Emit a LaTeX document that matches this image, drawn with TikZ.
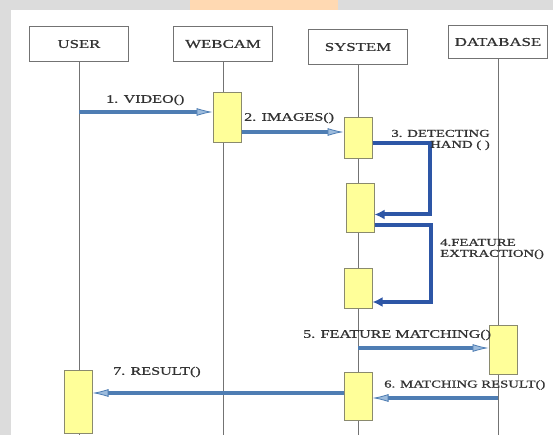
\documentclass[tikz,border=0pt]{standalone}
\usepackage{fontspec}
\setmainfont{Liberation Serif}[FakeStretch=1.4,FakeBold=0.8]
\usetikzlibrary{arrows.meta}
\definecolor{pagegrey}{HTML}{DCDCDC}
\definecolor{lineblue}{HTML}{4E7DB3}
\definecolor{tipblue}{HTML}{9DBCDD}
\definecolor{loopblue}{HTML}{2D56A6}
\definecolor{actyellow}{HTML}{FFFF99}
\definecolor{actedge}{HTML}{8A8A6E}

\begin{document}
\begin{tikzpicture}[x=1pt, y=-1pt,
	every node/.style={text=black!80},
	head/.style={draw=black!55, fill=white, line width=0.8pt, minimum width=99pt, minimum height=35pt, font=\fontsize{12}{13}\selectfont},
	act/.style={draw=actedge, fill=actyellow, line width=1pt, minimum width=28pt, inner sep=0pt},
	life/.style={draw=black!55, line width=0.8pt},
	msg/.style={draw=lineblue, line width=3.2pt, -{Latex[length=16pt,width=8pt,line width=0.8pt,fill=tipblue]}},
	selfmsg/.style={draw=loopblue, line width=4pt, line join=miter, -{Latex[length=10pt,width=10pt]}},
	lbl/.style={font=\fontsize{11.5}{11}\selectfont, inner sep=0pt}]
	\fill[pagegrey] (0,0) rectangle (553,435);
	\fill[white] (11,10) rectangle (553,435);
	\fill[orange!30] (190,0) rectangle (338,10);
	\useasboundingbox (0,0) rectangle (553,435);
	\coordinate (bottom) at (0,435);

	\node[head] (user) at (79,44) {USER};
	\node[head] (webcam) at (223,44) {WEBCAM};
	\node[head] (system) at (358,47) {SYSTEM};
	\node[head, minimum height=33pt] (database) at (498,42) {DATABASE};
	\foreach \n in {user,webcam,system,database}
		\draw[life] (\n.south) -- (\n.south |- bottom);

	\node[act, minimum height=50pt] (actW) at (227,118) {};
	\node[act, minimum height=41pt] (actS1) at (358,138.5) {};
	\node[act, minimum height=49pt] (actS2) at (360,208.5) {};
	\node[act, minimum height=40pt] (actS3) at (358,288) {};
	\node[act, minimum height=49pt] (actD) at (503,349.5) {};
	\node[act, minimum height=48pt] (actS4) at (358,396) {};
	\node[act, minimum height=63pt] (actU) at (78,401.5) {};

	\path ([yshift=6pt]actW.west) coordinate (m1);
	\draw[msg] (m1 -| user.south) -- (m1);
	\path ([yshift=-14pt]actW.east) coordinate (m2);
	\draw[msg] (m2) -- (m2 -| actS1.west);
	\draw[selfmsg] ([yshift=-5pt]actS1.east) -- ++(57,0) |- ([yshift=-6pt]actS2.east);
	\draw[selfmsg] ([yshift=-17pt]actS2.east) -- ++(56,0) |- ([yshift=-14pt]actS3.east);
	\path ([yshift=1.5pt]actD.west) coordinate (m5);
	\draw[msg] (m5 -| system.south) -- (m5);
	\path ([yshift=-2pt]actS4.east) coordinate (m6);
	\draw[msg] (m6 -| database.south) -- (m6);
	\path ([yshift=3pt]actS4.west) coordinate (m7);
	\draw[msg] (m7) -- (m7 -| actU.east);

	\node[lbl, anchor=west] (l1) at (106,100) {1. VIDEO()};
	\node[lbl, anchor=west] (l2) at (244,118) {2. IMAGES()};
	\node[lbl, anchor=east, align=right, font=\fontsize{10.5}{11}\selectfont] (l3) at (490,140) {3. DETECTING\\HAND ( )};
	\node[lbl, anchor=west, align=left, font=\fontsize{10.5}{11}\selectfont] (l4) at (440,249) {4.FEATURE\\EXTRACTION()};
	\node[lbl, anchor=west] (l5) at (303,335) {5. FEATURE MATCHING()};
	\node[lbl, anchor=west, font=\fontsize{10.5}{11}\selectfont] (l6) at (384,385) {6. MATCHING RESULT()};
	\node[lbl, anchor=west] (l7) at (113,372) {7. RESULT()};
\end{tikzpicture}
\end{document}
